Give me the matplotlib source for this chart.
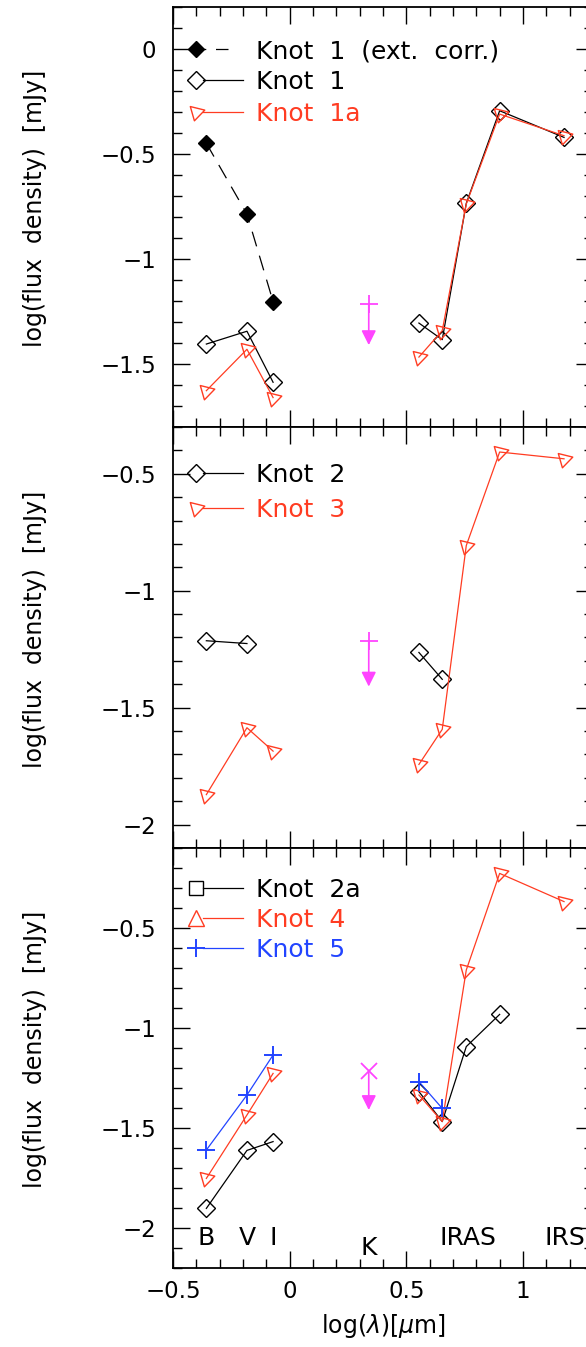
import numpy as np
import matplotlib
matplotlib.use("Agg")
import matplotlib.pyplot as plt
from matplotlib.path import Path
from matplotlib.ticker import MultipleLocator, FuncFormatter

plt.rcParams['font.family'] = ['DejaVu Sans']
plt.rcParams['mathtext.fontset'] = 'dejavusans'
plt.rcParams['lines.scale_dashes'] = False

# log10 of band wavelength [micron]
x_opt = [-0.357, -0.183, -0.071]              # B, V, I
x_k = 0.339                                   # K
x_ir = [0.554, 0.654, 0.757, 0.900, 1.176]    # 3.6, 4.5, 5.8, 8.0, 15 micron

# K-band upper limit (same in every panel)
k_limit = -1.215
k_arrow_end = -1.41

# panel 1
knot1_ext_opt = [-0.449, -0.786, -1.203]
knot1_opt = [-1.405, -1.344, -1.587]
knot1_ir = [-1.305, -1.384, -0.735, -0.294, -0.421]
knot1a_opt = [-1.627, -1.430, -1.660]
knot1a_ir = [-1.467, -1.341, -0.738, -0.310, -0.413]

# panel 2
knot2_opt = [-1.214, -1.226]          # B, V
knot2_ir = [-1.264, -1.379]           # 3.6, 4.5
knot3_opt = [-1.872, -1.586, -1.686]
knot3_ir = [-1.743, -1.593, -0.807, -0.407, -0.436]

# panel 3
knot2a_opt = [-1.902, -1.612, -1.568]
knot2a_ir = [-1.318, -1.468, -1.093, -0.932]   # 3.6 - 8.0
knot4_opt = [-1.752, -1.435, -1.227]
knot4_ir = [-1.335, -1.468, -0.710, -0.227, -0.368]
knot5_opt = [-1.610, -1.335, -1.135]
knot5_ir = [-1.268, -1.402]                    # 3.6, 4.5

band_labels = ['B', 'V', 'I', 'K', 'IRAS', 'IRS']

RED = '#ff3c22'
BLUE = '#2244ff'
MAG = '#ff44ff'
BLACK = 'black'

# tilted open triangle used for the red series
th = np.deg2rad(16)
base = np.array([[-2 / 3, 1.15], [-2 / 3, -1.15], [4 / 3, 0.0], [-2 / 3, 1.15]])
rot = np.array([[np.cos(th), -np.sin(th)], [np.sin(th), np.cos(th)]])
TRI = Path(base @ rot.T, closed=True)

LW = 0.9


def series(ax, xs, ys, color, marker, ms, mfc='none', dashed=False, mew=1.0):
    kw = dict(color=color, lw=LW, marker=marker, ms=ms, mfc=mfc, mec=color,
              mew=mew, clip_on=False)
    if dashed:
        kw['dashes'] = (11, 7)
    ax.plot(xs, ys, **kw)


def k_upper(ax, marker, ms):
    ax.plot([x_k], [k_limit], ls='none', marker=marker, ms=ms, color=MAG, mew=1.3)
    ax.annotate('', xy=(x_k, k_arrow_end), xytext=(x_k, k_limit),
                arrowprops=dict(arrowstyle='-|>', color=MAG, lw=1.2,
                                shrinkA=0, shrinkB=0, mutation_scale=22))


def legend_row(ax, y, label, color, marker, ms, mfc='none', dashed=False, mew=1.0):
    kw = dict(color=color, lw=LW)
    if dashed:
        ax.plot([-0.37, -0.20], [y, y], dashes=(2, 7, 9, 100), **kw)
    else:
        ax.plot([-0.37, -0.20], [y, y], **kw)
    ax.plot([-0.403], [y], ls='none', marker=marker, ms=ms, mfc=mfc, mec=color,
            mew=mew)
    ax.annotate(label, xy=(-0.143, y), xytext=(0, -6.5), textcoords='offset points',
                color=color, fontsize=18, va='baseline', ha='left')


def fmt(v, pos):
    s = '%g' % round(v, 3)
    return s.replace('-', '\u2212')


fig = plt.figure(figsize=(5.86, 13.47), dpi=100)
left, width = 0.2952, 0.7167
positions = [(0.6830, 0.3118), (0.3705, 0.3125), (0.05865, 0.3118)]
ylims = [(-1.8, 0.2), (-2.1, -0.3), (-2.2, -0.1)]
axes = []
for (b, h), yl in zip(positions, ylims):
    ax = fig.add_axes([left, b, width, h])
    ax.set_xlim(-0.5, 1.3)
    ax.set_ylim(*yl)
    ax.xaxis.set_major_locator(MultipleLocator(0.5))
    ax.xaxis.set_minor_locator(MultipleLocator(0.1))
    ax.yaxis.set_major_locator(MultipleLocator(0.5))
    ax.yaxis.set_minor_locator(MultipleLocator(0.1))
    ax.yaxis.set_major_formatter(FuncFormatter(fmt))
    ax.xaxis.set_major_formatter(FuncFormatter(fmt))
    ax.tick_params(which='both', direction='in', top=True, right=True, width=1.0)
    ax.tick_params(which='major', length=12.5)
    ax.tick_params(which='minor', length=6.5)
    ax.tick_params(axis='y', labelsize=16.5, pad=12)
    ax.tick_params(axis='x', labelsize=16.5, pad=9)
    for sp in ax.spines.values():
        sp.set_linewidth(1.3)
    ax.set_ylabel('log(flux  density)  [mJy]', fontsize=17)
    ax.yaxis.set_label_coords(-0.300, 0.52)
    axes.append(ax)

ax1, ax2, ax3 = axes
ax1.tick_params(axis='x', labelbottom=False)
ax2.tick_params(axis='x', labelbottom=False)

# ---- panel 1: Knot 1 / 1a
series(ax1, x_opt, knot1_ext_opt, BLACK, 'D', 8.3, mfc=BLACK, dashed=True)
series(ax1, x_opt, knot1_opt, BLACK, 'D', 9)
series(ax1, x_ir, knot1_ir, BLACK, 'D', 9)
series(ax1, x_opt, knot1a_opt, RED, TRI, 12)
series(ax1, x_ir, knot1a_ir, RED, TRI, 12)
k_upper(ax1, '+', 13.5)
legend_row(ax1, 0.0, 'Knot  1  (ext.  corr.)', BLACK, 'D', 8.3, mfc=BLACK, dashed=True)
legend_row(ax1, -0.148, 'Knot  1', BLACK, 'D', 9)
legend_row(ax1, -0.301, 'Knot  1a', RED, TRI, 12)

# ---- panel 2: Knot 2 / 3
series(ax2, x_opt[:2], knot2_opt, BLACK, 'D', 9)
series(ax2, x_ir[:2], knot2_ir, BLACK, 'D', 9)
series(ax2, x_opt, knot3_opt, RED, TRI, 12)
series(ax2, x_ir, knot3_ir, RED, TRI, 12)
k_upper(ax2, '+', 13.5)
legend_row(ax2, -0.496, 'Knot  2', BLACK, 'D', 9)
legend_row(ax2, -0.647, 'Knot  3', RED, TRI, 12)

# ---- panel 3: Knot 2a / 4 / 5
series(ax3, x_opt, knot2a_opt, BLACK, 'D', 9)
series(ax3, x_ir[:4], knot2a_ir, BLACK, 'D', 9)
series(ax3, x_opt, knot4_opt, RED, TRI, 12)
series(ax3, x_ir, knot4_ir, RED, TRI, 12)
series(ax3, x_opt, knot5_opt, BLUE, '+', 13.5, mew=1.4)
series(ax3, x_ir[:2], knot5_ir, BLUE, '+', 13.5, mew=1.4)
k_upper(ax3, 'x', 11)
legend_row(ax3, -0.300, 'Knot  2a', BLACK, 's', 9.5)
legend_row(ax3, -0.449, 'Knot  4', RED, '^', 11)
legend_row(ax3, -0.600, 'Knot  5', BLUE, '+', 13.5, mew=1.4)

# band names along the bottom
band_x = [x_opt[0], x_opt[1], x_opt[2], x_k, 0.765, 1.093]
band_y = [-2.05, -2.05, -2.05, -2.10, -2.05, -2.05]
band_ha = ['center', 'center', 'center', 'center', 'center', 'left']
for lab, bx, by, ha in zip(band_labels, band_x, band_y, band_ha):
    ax3.text(bx, by, lab, fontsize=18, ha=ha, va='center', color=BLACK)

ax3.set_xlabel(r'log($\lambda$)[$\mu$m]', fontsize=17, labelpad=6)

fig.savefig('out.png', dpi=100)
